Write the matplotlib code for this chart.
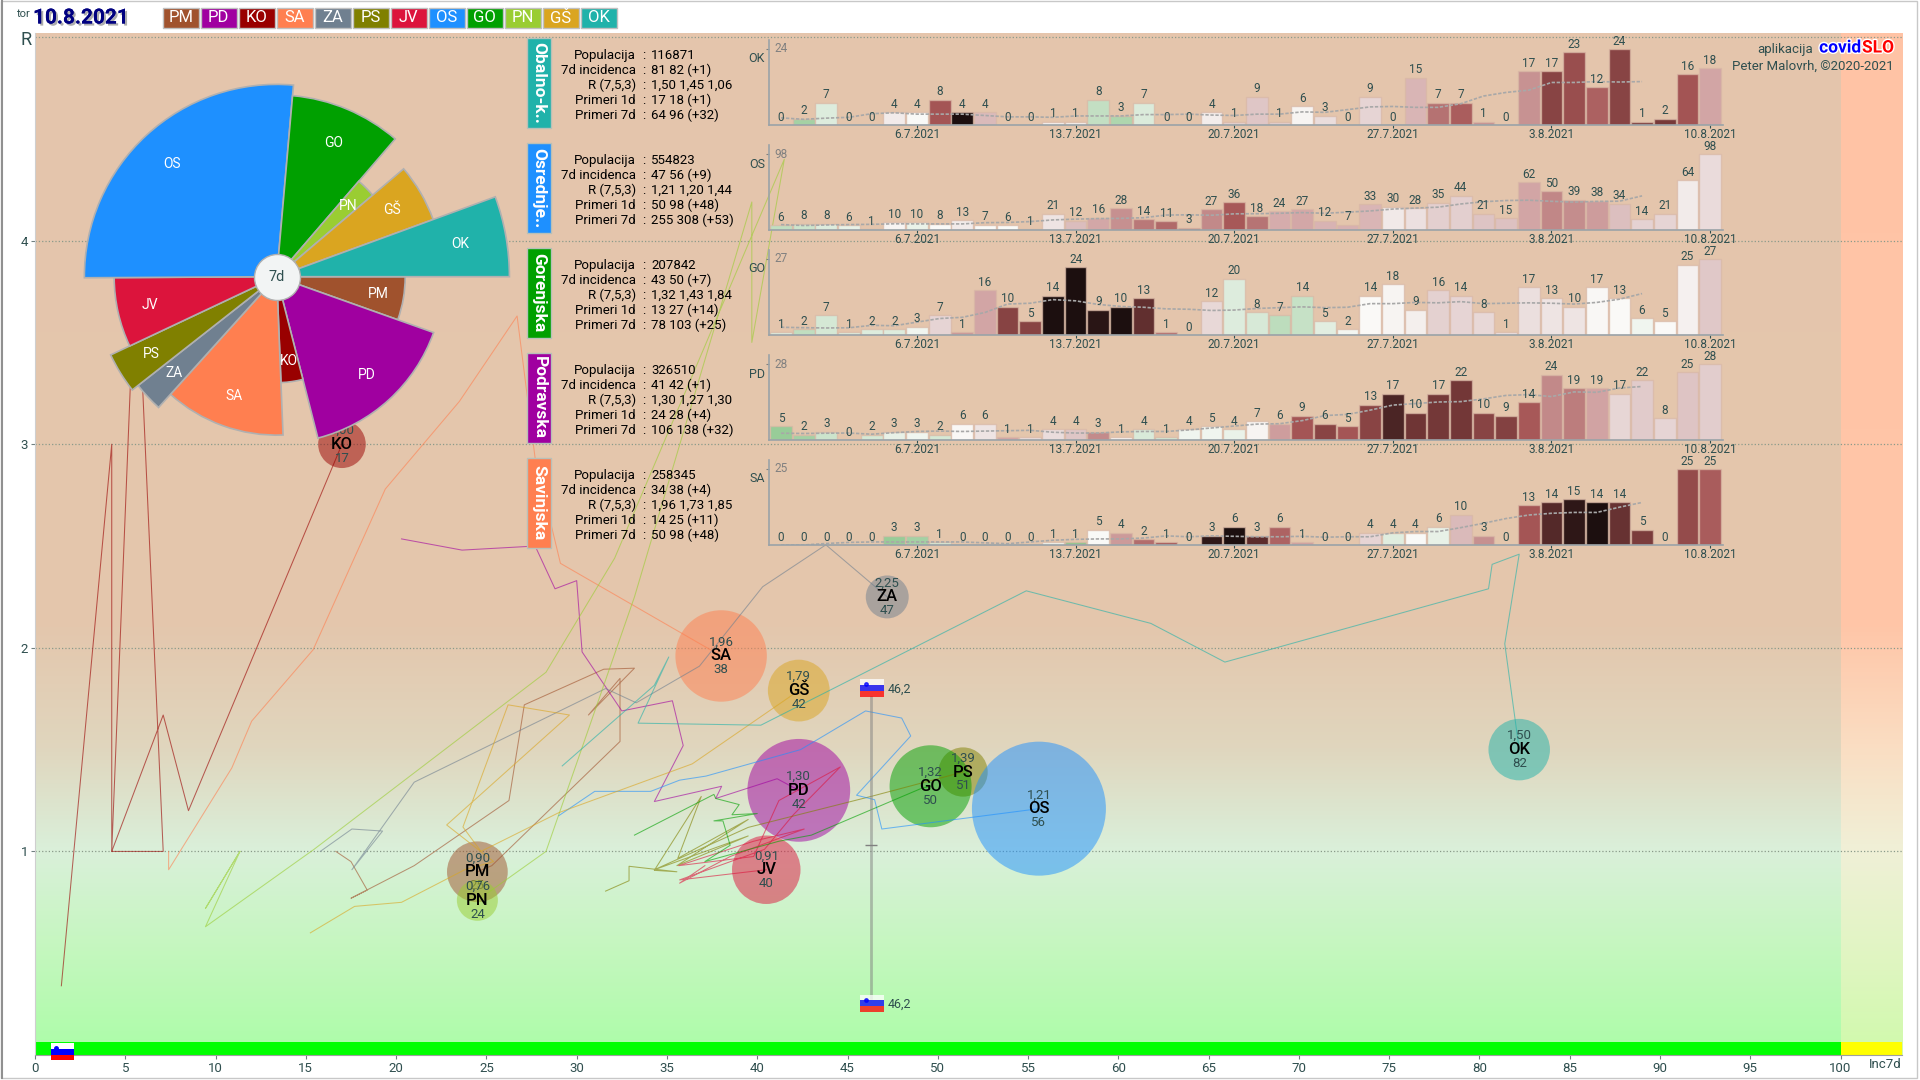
import numpy as np
import pandas as pd
import matplotlib
matplotlib.use("Agg")
import matplotlib.pyplot as plt
import matplotlib.patheffects as pe
from matplotlib.colors import LinearSegmentedColormap
from matplotlib.patches import Rectangle

plt.rcParams['font.family'] = ['Roboto', 'DejaVu Sans']

# regions, in legend / pie order
codes = ['PM', 'PD', 'KO', 'SA', 'ZA', 'PS', 'JV', 'OS', 'GO', 'PN', 'GŠ', 'OK']
colors = ['#A0522D', '#A000A0', '#990000', '#FF7F50', '#708090', '#808000',
          '#DC143C', '#1E90FF', '#00A000', '#9ACD32', '#DAA520', '#20B2AA']
population = [114000, 326510, 70000, 258345, 57000, 75000, 145000, 554823, 207842, 52000, 118000, 116871]
incidence = [25, 42, 17, 38, 47, 51, 40, 56, 50, 24, 42, 82]
inc_x = [24.5, 42.3, 17.0, 38.0, 47.2, 51.4, 40.5, 55.6, 49.6, 24.5, 42.3, 82.2]
r_now = [0.90, 1.30, 3.00, 1.96, 2.25, 1.39, 0.91, 1.21, 1.32, 0.76, 1.79, 1.50]

# tails of the bubbles (incidence, R)
tails = {
    'KO': [(1.46, .34), (4.25, 3), (4.25, 1), (5.6, 4.0), (7.1, 1), (4.25, 1), (7.1, 1.67), (8.5, 1.2), (17, 3)],
    'SA': [(7.4, 1), (7.4, .91), (10.9, 1.41), (12, 1.64), (15.4, 1.99), (19.4, 2.78), (23.5, 3.21), (26.7, 3.63),
           (27.7, 2.93), (29.1, 2.415), (38, 1.96)],
    'PD': [(20.3, 2.535), (23.65, 2.48), (27.7, 2.5), (28.8, 2.29), (30, 2.33), (30.3, 1.98), (32.5, 1.69),
           (35.3, 1.74), (35.9, 1.52), (34.3, 1.245), (38.03, 1.32), (37.7, 1.26), (41.1, 1.357), (42.3, 1.3)],
    'JV': [(37.1, .93), (35.7, .844), (38.5, .975), (42.6, 1.11), (39.8, 1.05), (35.65, .93), (39.8, .975),
           (41.2, 1.25), (44.6, 1.415), (42, 1.18), (40.4, 1.01), (35.7, .86), (40.5, .91)],
    'GO': [(33.2, 1.08), (37.6, 1.28), (37.7, 1.26), (39, 1.23), (38.6, 1.18), (40, 1.186), (37.6, 1.15), (38.1, 1.15),
           (38.5, 1.03), (37.1, .95), (41.2, 1.05), (43, 1.08), (49.1, 1.31), (49.6, 1.32)],
    'PS': [(31.6, .805), (32.9, .856), (32.9, .927), (35.55, .9), (34.3, .907), (36.9, 1.27), (35.6, .966),
           (39.5, 1.157), (35.55, .93), (39.5, 1.076), (34.3, .91), (39.5, 1.118), (46.3, 1.27), (51.4, 1.39)],
    'OS': [(29, 1.175), (31, 1.295), (34.1, 1.295), (35.7, 1.35), (37.16, 1.37), (42.4, 1.5), (46, 1.69), (48, 1.655),
           (48.5, 1.567), (45.5, 1.276), (46.5, 1.254), (46.9, 1.11), (55.6, 1.21)],
    'OK': [(29.2, 1.42), (34.3, 1.816), (35.1, 1.955), (33.4, 1.63), (40.2, 1.62), (54.9, 2.28), (61.8, 2.12),
           (65.9, 1.93), (80.5, 2.29), (80.7, 2.41), (82.2, 2.46), (81.4, 2.02), (82.2, 1.5)],
    'ZA': [(15.8, 1), (17.55, 1.11), (19.25, 1.1), (17.55, .91), (21, 1.34), (31.6, 1.8), (33.3, 1.73), (36.8, 1.91),
           (40.3, 2.3), (43.8, 2.506), (47.2, 2.25)],
    'PM': [(16.66, 1), (17.5, .95), (18.4, .81), (17.5, .77), (21, .93), (26.25, 1.25), (27.1, 1.72), (31.5, 1.895),
           (33.2, 1.9), (30.65, 1.67), (32.4, 1.85), (32.4, 1.54), (25.3, .93), (24.5, .9)],
    'GŠ': [(15.25, .6), (17.7, .73), (20.3, .75), (23.8, .91), (25.4, .95), (22.8, 1.13), (29.6, 1.67), (26.2, 1.72),
           (23.7, 1.12), (24.7, 1.0), (29, 1.19), (36.4, 1.43), (42.3, 1.79)],
    'PN': [(11.35, 1), (9.44, .72), (11.35, 1), (9.44, .63), (15.45, 1.01), (28.3, 1.88), (32.1, 2.44), (41.5, 4.4),
           (39.7, 3.5), (39.7, 4.19), (33.2, 2.25), (28.3, 1), (24.5, .76)],
}

# the five small panels
panel_codes = ['OK', 'OS', 'GO', 'PD', 'SA']
panel_names = ['Obalno-k..', 'Osrednje..', 'Gorenjska', 'Podravska', 'Savinjska']
panel_colors = ['#20B2AA', '#1E90FF', '#00A000', '#A000A0', '#FF7F50']
info_names = ['Populacija', '7d incidenca', 'R (7,5,3)', 'Primeri 1d', 'Primeri 7d']
info_ok = ['116871', '81 82 (+1)', '1,50 1,45 1,06', '17 18 (+1)', '64 96 (+32)']
info_os = ['554823', '47 56 (+9)', '1,21 1,20 1,44', '50 98 (+48)', '255 308 (+53)']
info_go = ['207842', '43 50 (+7)', '1,32 1,43 1,84', '13 27 (+14)', '78 103 (+25)']
info_pd = ['326510', '41 42 (+1)', '1,30 1,27 1,30', '24 28 (+4)', '106 138 (+32)']
info_sa = ['258345', '34 38 (+4)', '1,96 1,73 1,85', '14 25 (+11)', '50 98 (+48)']

cases_ok = [0, 2, 7, 0, 0, 4, 4, 8, 4, 4, 0, 0, 1, 1, 8, 3, 7, 0, 0, 4, 1, 9, 1, 6, 3, 0, 9, 0, 15, 7, 7, 1, 0, 17, 17, 23, 12, 24, 1, 2, 16, 18]
cases_os = [6, 8, 8, 6, 1, 10, 10, 8, 13, 7, 6, 1, 21, 12, 16, 28, 14, 11, 3, 27, 36, 18, 24, 27, 12, 7, 33, 30, 28, 35, 44, 21, 15, 62, 50, 39, 38, 34, 14, 21, 64, 98]
cases_go = [1, 2, 7, 1, 2, 2, 3, 7, 1, 16, 10, 5, 14, 24, 9, 10, 13, 1, 0, 12, 20, 8, 7, 14, 5, 2, 14, 18, 9, 16, 14, 8, 1, 17, 13, 10, 17, 13, 6, 5, 25, 27]
cases_pd = [5, 2, 3, 0, 2, 3, 3, 2, 6, 6, 1, 1, 4, 4, 3, 1, 4, 1, 4, 5, 4, 7, 6, 9, 6, 5, 13, 17, 10, 17, 22, 10, 9, 14, 24, 19, 19, 17, 22, 8, 25, 28]
cases_sa = [0, 0, 0, 0, 0, 3, 3, 1, 0, 0, 0, 0, 1, 1, 5, 4, 2, 1, 0, 3, 6, 3, 6, 1, 0, 0, 4, 4, 4, 6, 10, 3, 0, 13, 14, 15, 14, 14, 5, 0, 25, 25]

start_ok = [1, 0.6, 0.85, 1, 1, 1.1, 1.0, 2.0, 3.5, 1.4, 1, 1, 1.05]
start_os = [0.7, 0.75, 0.85, 0.9, 1, 1.05, 0.92, 1.0, 1.1, 1.0, 1.0, 1, 1.15]
start_go = [0.85, 0.7, 0.8, 0.85, 0.85, 0.85, 0.95, 1.25, 1.6, 1.5, 2.3, 2.3, 3.5]
start_pd = [0.55, 0.6, 0.75, 1, 0.8, 0.9, 0.95, 0.8, 1.02, 1.15, 1.5, 1.2, 1.2]
start_sa = [1, 1, 1, 1, 1, 0.55, 0.6, 0.8, 1, 1, 1, 1, 0.95]

date_ticks = [6, 13, 20, 27, 34, 41]
date_labels = ['6.7.2021', '13.7.2021', '20.7.2021', '27.7.2021', '3.8.2021', '10.8.2021']

DARK = '#2F4F4F'
W, H = 1920, 1080


def px_rect(left, top, right, bottom):
    return [left / W, 1 - bottom / H, (right - left) / W, (bottom - top) / H]


def flag(ax, x, y, alpha=1.0, zorder=5):
    for i, c in enumerate(['red', 'blue', 'white']):
        ax.bar(x, 0.029, width=1.3, bottom=y + i * 0.029, align='edge', color=c, alpha=alpha,
               zorder=zorder, clip_on=False)
    ax.plot(x + 0.3, y + 0.062, 'o', ms=2.5, color='blue', alpha=alpha, zorder=zorder + 1, clip_on=False)


def gradient(ax, stops, x0, x1):
    cmap = LinearSegmentedColormap.from_list('bg', [(r / 5.02, tuple(v / 255 for v in c)) for r, c in stops])
    ax.imshow(np.linspace(1, 0, 512).reshape(-1, 1), cmap=cmap, vmin=0, vmax=1, aspect='auto',
              extent=[x0, x1, 0, 5.02], zorder=0)


def main_chart(fig):
    ax = fig.add_axes(px_rect(35, 33, 1902, 1055))
    gradient(ax, [(0, (172, 253, 168)), (.5, (196, 247, 190)), (1, (218, 240, 218)), (1.5, (224, 214, 190)),
                  (2.1, (228, 199, 173)), (5.02, (229, 197, 172))], 0, 100)
    gradient(ax, [(0, (208, 250, 172)), (.5, (225, 245, 195)), (1, (240, 240, 215)), (1.5, (250, 222, 195)),
                  (2.1, (255, 198, 168)), (5.02, (255, 195, 165))], 100, 103.4)
    ax.set_xlim(0, 103.4)
    ax.set_ylim(0, 5.02)

    ax.bar(50, 0.065, width=100, color='#00FF00', zorder=1)
    ax.bar(101.7, 0.065, width=3.4, color='#FFFF00', zorder=1)

    for r in [1, 2, 3, 4, 5]:
        ax.axhline(r, color='#8a9a8a', lw=0.9, ls=':', zorder=1)

    for c, col in zip(codes, colors):
        xs, ys = zip(*tails[c])
        ax.plot(xs, ys, color=col, lw=0.75, alpha=0.6, zorder=3)

    # bubble area follows the population, 67 px radius for the biggest
    sizes = [(2 * 67 * np.sqrt(p / max(population)) * 0.72) ** 2 for p in population]
    ax.scatter(inc_x, r_now, s=sizes, c=colors, alpha=0.5, linewidths=0, zorder=2)

    for c, x, r, inc in zip(codes, inc_x, r_now, incidence):
        ax.annotate(('%.2f' % r).replace('.', ','), (x, r), xytext=(0, 10), textcoords='offset points',
                    ha='center', va='center', fontsize=9.5, color=DARK, zorder=6)
        ax.annotate(c, (x, r), ha='center', va='center', fontsize=12, color='black', fontweight='medium', zorder=6)
        # the PM count sits under the PN bubble in the original
        ax.annotate(str(inc), (x, r), xytext=(0, -10), textcoords='offset points', ha='center', va='center',
                    fontsize=9.5, color=DARK, zorder=1.5 if c == 'PM' else 6)

    # Slovenia average
    ax.plot([46.3, 46.3], [0.28, 1.76], color='#808080', lw=2, alpha=0.5, zorder=3)
    ax.plot([46.3], [1.03], '_', ms=8, color='#808080', zorder=3)
    flag(ax, 45.7, 1.76, alpha=0.75)
    flag(ax, 45.7, 0.21, alpha=0.75)
    flag(ax, 0.87, -0.027)
    ax.text(47.2, 1.797, '46,2', fontsize=9, color=DARK, va='center', zorder=6)
    ax.text(47.2, 0.248, '46,2', fontsize=9, color=DARK, va='center', zorder=6)

    ax.set_xticks(range(0, 101, 5))
    ax.set_yticks([1, 2, 3, 4])
    ax.tick_params(colors=DARK, labelsize=9.5, length=3, color='#708080', pad=2)
    for s in ['top', 'right']:
        ax.spines[s].set_visible(False)
    ax.spines['left'].set_color('#cfcfcf')
    ax.spines['bottom'].set_color('#a0a0a0')
    return ax


def rose(fig):
    # wedge width by population, radius by sqrt of incidence, 25.7 px per unit
    ax = fig.add_axes(px_rect(19.7, 19.7, 533.7, 533.7), projection='polar', zorder=5)
    ax.patch.set_alpha(0)
    ax.set_theta_direction(-1)
    ax.set_theta_offset(0)
    ax.set_ylim(0, 10)
    widths = np.array(population) / sum(population) * 2 * np.pi
    starts = np.concatenate([[0], np.cumsum(widths)[:-1]])
    radii = np.sqrt(incidence)
    ax.bar(starts, radii, width=widths, align='edge', color=colors, edgecolor='#b0b0b0', linewidth=1.2)
    for c, t, w, r in zip(codes, starts, widths, radii):
        ax.text(t + w / 2, r * 0.8, c, color='white', fontsize=10, ha='center', va='center')
    ax.scatter([0], [0], s=(2 * 23 * 0.72) ** 2, color='#f2f4f4', edgecolors='#b0b0b0', linewidths=1, zorder=4)
    ax.text(0, 0, '7d', color=DARK, fontsize=10.5, ha='center', va='center', zorder=5)
    ax.axis('off')


def bars_panel(fig, idx, cases, start, cmap):
    base = 125 + idx * 105
    ax = fig.add_axes(px_rect(769, base - 85, 1722.5, base), zorder=4)
    ax.patch.set_alpha(0)
    x = np.arange(len(cases))
    s = pd.Series(cases, dtype=float)
    top = max(cases)

    week = s.rolling(7).sum()
    prev = week.shift(7)
    ratio = list(start) + [w / p if p > 0 else 1.0 for w, p in zip(week[13:], prev[13:])]
    ax.bar(x, cases, width=0.96, color=cmap((np.array(ratio) - 0.5) / 3.0),
           edgecolor=(0.85, 0.72, 0.65, 0.7), linewidth=1)

    avg = s.rolling(7, center=True, min_periods=1).mean()
    avg[-3:] = np.nan
    ax.plot(x, avg, color='#a8a8a8', lw=1.2, ls=(0, (2, 1)))

    for xi, v in zip(x, cases):
        ax.annotate(str(v), (xi, v), xytext=(0, 1), textcoords='offset points', ha='center', va='bottom',
                    fontsize=8.5, color=DARK)

    ax.set_xlim(-0.53, 41.55)
    ax.set_ylim(0, top * 85 / 76)
    ax.set_xticks(date_ticks)
    ax.set_xticklabels(date_labels)
    ax.set_yticks([top])
    ax.set_yticklabels([])
    ax.tick_params(axis='x', labelsize=8.5, colors=DARK, length=2, color=DARK, pad=0)
    ax.tick_params(axis='y', length=2, color='#808080')
    ax.annotate(str(top), (0, top), xycoords=('axes fraction', 'data'), xytext=(4, 0),
                textcoords='offset points', va='center', fontsize=8.5, color='#808080')
    for sp in ['top', 'right']:
        ax.spines[sp].set_visible(False)
    for sp in ['left', 'bottom']:
        ax.spines[sp].set_color('#9aa3a8')
        ax.spines[sp].set_linewidth(1.2)


def overlay(fig):
    # page furniture, in pixel coordinates
    ax = fig.add_axes([0, 0, 1, 1], zorder=6)
    ax.set_xlim(0, W)
    ax.set_ylim(H, 0)
    ax.axis('off')
    ax.patch.set_alpha(0)

    ax.add_patch(Rectangle((1, 1), W - 4, H - 3, fill=False, ec='#c8c8c8', lw=1))
    ax.plot([2, 2], [1, H - 2], color='#909090', lw=1.5)

    ax.text(24, 14, 'tor', fontsize=8, color=DARK, ha='center', va='center')
    ax.text(33, 18, '10.8.2021', fontsize=15, color='#000080', fontweight='bold', va='center',
            path_effects=[pe.withSimplePatchShadow(offset=(1.5, -1.5), shadow_rgbFace='#999999', alpha=0.8), pe.Normal()])

    for i, (c, col) in enumerate(zip(codes, colors)):
        x = 163 + i * 38
        ax.add_patch(Rectangle((x, 7.5), 35.5, 20, fc=col, ec='#c0c0c0', lw=1))
        ax.text(x + 17.7, 18, c, color='white', fontsize=12, ha='center', va='center')

    infos = [info_ok, info_os, info_go, info_pd, info_sa]
    for i, (name, col, info) in enumerate(zip(panel_names, panel_colors, infos)):
        dy = i * 105
        ax.add_patch(Rectangle((527, 38 + dy), 24, 90, fc=col, ec='#b8c0b8', lw=1))
        ax.text(539, 83 + dy, name, color='white', fontsize=12.5, fontweight='bold', rotation=-90,
                ha='center', va='center')
        for j, (label, val) in enumerate(zip(info_names, info)):
            y = 55.7 + dy + j * 15
            ax.text(636, y, label, fontsize=9.5, color='black', ha='right', va='center')
            ax.text(644, y, ':', fontsize=9.5, color='black', ha='center', va='center')
            ax.text(651, y, val, fontsize=9.5, color='black', ha='left', va='center')
        ax.text(765, 59 + dy, panel_codes[i], fontsize=9, color=DARK, ha='right', va='center')

    ax.text(1813, 49, 'aplikacija', fontsize=9.5, color=DARK, ha='right', va='center')
    outline = [pe.withStroke(linewidth=2, foreground='white')]
    ax.text(1861, 48, 'covid', fontsize=12.5, color='blue', fontweight='bold', ha='right', va='center', path_effects=outline)
    ax.text(1862, 48, 'SLO', fontsize=12.5, color='red', fontweight='bold', ha='left', va='center', path_effects=outline)
    ax.text(1894, 66, 'Peter Malovrh, ©2020-2021', fontsize=9.5, color=DARK, ha='right', va='center')

    ax.text(26, 40, 'R', fontsize=13, color=DARK, ha='center', va='center')
    ax.text(1902, 1064, 'Inc7d', fontsize=9.5, color=DARK, ha='right', va='center')


def main():
    fig = plt.figure(figsize=(19.2, 10.8), dpi=100, facecolor='white')
    main_chart(fig)
    rose(fig)
    shade = LinearSegmentedColormap.from_list('shade', [
        (0.0, (140 / 255, 198 / 255, 140 / 255)), (0.0833, (205 / 255, 228 / 255, 205 / 255)),
        (0.1667, (250 / 255, 250 / 255, 248 / 255)), (0.2667, (226 / 255, 205 / 255, 205 / 255)),
        (0.3333, (210 / 255, 165 / 255, 165 / 255)), (0.5, (165 / 255, 85 / 255, 85 / 255)),
        (0.6667, (115 / 255, 55 / 255, 55 / 255)), (0.8333, (60 / 255, 30 / 255, 30 / 255)),
        (1.0, (28 / 255, 15 / 255, 15 / 255))])
    series = [(cases_ok, start_ok), (cases_os, start_os), (cases_go, start_go), (cases_pd, start_pd), (cases_sa, start_sa)]
    for i, (cases, start) in enumerate(series):
        bars_panel(fig, i, cases, start, shade)
    overlay(fig)
    fig.savefig('out.png', dpi=100)


if __name__ == "__main__":
    main()
